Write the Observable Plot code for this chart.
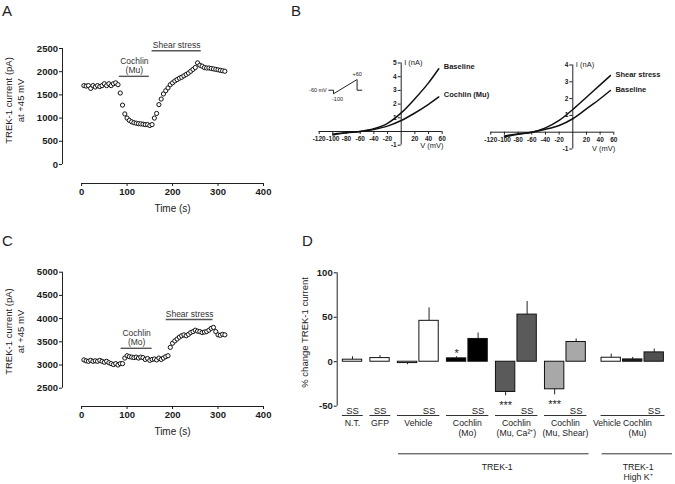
<!DOCTYPE html>
<html><head><meta charset="utf-8">
<script src="https://cdn.jsdelivr.net/npm/d3@7"></script>
<script src="https://cdn.jsdelivr.net/npm/@observablehq/plot@0.6"></script>
<style>
body{margin:0;background:#fff;}
#fig{position:relative;width:675px;height:484px;overflow:hidden;font-family:"Liberation Sans",Arial,Helvetica,sans-serif;color:#1a1a1a;background:#fff;}
.letter{position:absolute;font-size:15px;line-height:1;color:#222;}
</style></head><body><div id="fig"></div>
<script>
// ---------- DATA ----------
// Panels A and C: TREK-1 current at +45 mV sampled every 5 s
const sampleTimes = [5,10,15,20,25,30,35,40,45,50,55,60,65,70,75,80,85,90,95,100,105,110,115,120,125,130,135,140,145,150,155,160,165,170,175,180,185,190,195,200,205,210,215,220,225,230,235,240,245,250,255,260,265,270,275,280,285,290,295,300,305,310,315];
const currentA = [1700,1690,1700,1640,1700,1670,1700,1680,1700,1740,1700,1740,1700,1740,1760,1720,1540,1280,1090,1000,950,920,900,890,880,875,870,860,860,840,860,1000,1100,1290,1410,1520,1590,1650,1720,1760,1800,1830,1860,1880,1910,1940,1970,2010,2050,2090,2190,2140,2120,2090,2080,2080,2070,2060,2050,2040,2030,2020,2010];
const currentC = [3110,3090,3080,3100,3080,3090,3080,3100,3080,3060,3080,3050,3030,3010,3030,3000,3030,3030,3150,3200,3180,3170,3160,3170,3150,3170,3160,3120,3140,3100,3120,3130,3110,3150,3120,3150,3180,3200,3380,3470,3520,3560,3600,3630,3650,3630,3660,3700,3720,3750,3730,3720,3700,3710,3720,3750,3790,3810,3720,3650,3640,3660,3650];
const timeTicks = [0,100,200,300,400];
const yTicksA = [0,500,1000,1500,2000,2500];
const yTicksC = [2500,3000,3500,4000,4500,5000];
// treatment periods (label, start s, end s, drawn at current level)
const periodLabelA = ["Cochlin\n(Mu)","Shear stress"];
const periodStartA = [83,155];
const periodEndA = [149,263];
const periodLevelA = [1900,2450];
const periodLabelC = ["Cochlin\n(Mo)","Shear stress"];
const periodStartC = [87,186];
const periodEndC = [155,289];
const periodLevelC = [3360,3980];

// Panel B: I-V relations
const ivVoltage = [-100,-80,-60,-40,-20,0,20,40,55];
const ivBaselineMu = [-0.25,-0.1,0,0.2,0.6,1.36,2.39,3.55,4.58];
const ivCochlinMu = [-0.2,-0.08,0,0.15,0.39,0.8,1.35,1.98,2.52];
const ivShear = [-0.28,-0.12,0,0.26,0.7,1.35,2.08,2.82,3.37];
const ivBaselineShear = [-0.22,-0.1,0,0.17,0.4,0.8,1.39,1.99,2.48];
const vTicks = [-120,-100,-80,-60,-40,-20,20,40,60];
const iTicksLeft = [-1,1,2,3,4,5];
const iTicksRight = [-1,1,2,3,4];
// voltage-ramp protocol
const protocolStep = [0,1,1,6,6,7];
const protocolVoltage = [-60,-60,-100,60,-60,-60];

// Panel D: % change in TREK-1 current
const groupNames = ["N.T.","GFP","Vehicle","Cochlin\n(Mo)","Cochlin\n(Mu, Ca²⁺)","Cochlin\n(Mu, Shear)","High K⁺"];
const barGroup = ["N.T.","GFP","Vehicle","Vehicle","Cochlin\n(Mo)","Cochlin\n(Mo)","Cochlin\n(Mu, Ca²⁺)","Cochlin\n(Mu, Ca²⁺)","Cochlin\n(Mu, Shear)","Cochlin\n(Mu, Shear)","High K⁺","High K⁺","High K⁺"];
const barTreatment = ["SS","SS","Vehicle","SS","Cochlin (Mo)","SS","Cochlin (Mu, Ca²⁺)","SS","Cochlin (Mu, Shear)","SS","Vehicle","Cochlin\n(Mu)","SS"];
const barSeries = ["N.T.","GFP","Vehicle","Vehicle","Mo","Mo","Ca","Ca","Shear","Shear","HK Vehicle","HK Cochlin","HK SS"];
const barPercent = [2.3,4.1,-1.5,46,3.8,25.6,-34,53,-31,22.2,4.5,2.6,10.5];
const barSEM = [3.3,2.7,1.9,14.5,1.8,6.7,4.3,14.7,6.2,3.4,4.1,2.3,3.8];
const barSignif = ["","","","","*","","***","","***","","","",""];
const percentTicks = [-50,0,50,100];
const superGroupNames = ["TREK-1","TREK-1\nHigh K⁺"];
const superGroupMembers = [["Vehicle","Cochlin\n(Mo)","Cochlin\n(Mu, Ca²⁺)","Cochlin\n(Mu, Shear)"],["High K⁺"]];

// ---------- RENDER ----------
const FONT = '"Liberation Sans", Arial, Helvetica, sans-serif';
const fig = document.getElementById("fig");
const baseStyle = {fontFamily: FONT, fontSize: "9px", color: "#1a1a1a", background: "transparent", overflow: "visible"};
function place(svg, left, top) {
  svg.style.position = "absolute"; svg.style.left = left + "px"; svg.style.top = top + "px";
  fig.appendChild(svg);
}
function letter(t, left, top) {
  const d = document.createElement("div"); d.className = "letter"; d.textContent = t;
  d.style.left = left + "px"; d.style.top = top + "px"; fig.appendChild(d);
}
const idx = n => d3.range(n);
const plain = d => String(d);

function tracePanel({current, yTicks, yDomain, height, marginTop, marginBottom, labels, starts, ends, levels, yLabelAt}) {
  const xDomain = [-42, 400];
  const pi = idx(labels.length);
  return Plot.plot({
    width: 300, height, marginLeft: 62, marginRight: 37, marginTop, marginBottom,
    style: baseStyle,
    x: {domain: xDomain, axis: null}, y: {domain: yDomain, axis: null},
    marks: [
      Plot.ruleX([xDomain[0]], {y1: yTicks[0], y2: yTicks[yTicks.length - 1], stroke: "#222"}),
      Plot.ruleY([yDomain[0]], {x1: timeTicks[0], x2: timeTicks[timeTicks.length - 1], stroke: "#222"}),
      Plot.axisY({ticks: yTicks, tickFormat: plain, tickSize: 3, tickPadding: 1.5, fontWeight: "bold", fontSize: 9.5, label: null}),
      Plot.axisX({ticks: timeTicks, tickFormat: plain, tickSize: 3, tickPadding: 2, fontWeight: "bold", fontSize: 9.5, label: null}),
      Plot.text(["Time (s)"], {x: 200, y: yDomain[0], dy: 25, fontSize: 10}),
      Plot.text(["TREK-1 current (pA)\nat +45 mV"], {x: xDomain[0], y: yLabelAt, dx: -48, rotate: -90, fontSize: 9.5, lineHeight: 1.25}),
      Plot.ruleY(pi, {y: i => levels[i], x1: i => starts[i], x2: i => ends[i], stroke: "#555", strokeWidth: 1.4}),
      Plot.text(pi, {x: i => (starts[i] + ends[i]) / 2, y: i => levels[i], text: i => labels[i], lineAnchor: "bottom", dy: -3, fontSize: 8.5, fill: "#333", lineHeight: 1.15}),
      Plot.dot(idx(sampleTimes.length), {x: i => sampleTimes[i], y: i => current[i], r: 2.1, stroke: "#111", strokeWidth: 1, fill: "white"})
    ]
  });
}

place(tracePanel({current: currentA, yTicks: yTicksA, yDomain: [-410, 2500], height: 220, marginTop: 48, marginBottom: 37,
  labels: periodLabelA, starts: periodStartA, ends: periodEndA, levels: periodLevelA, yLabelAt: 1380}), 0, 0);
place(tracePanel({current: currentC, yTicks: yTicksC, yDomain: [2106, 5000], height: 230, marginTop: 51.7, marginBottom: 44,
  labels: periodLabelC, starts: periodStartC, ends: periodEndC, levels: periodLevelC, yLabelAt: 3722}), 0, 220);

function ivPanel({width, height, marginLeft, marginRight, marginTop, marginBottom, yDomain, iTicks, curves, names, labelDy}) {
  const ci = idx(curves.length);
  const pts = [];
  curves.forEach((c, k) => ivVoltage.forEach((v, j) => pts.push({k, v, i: c[j]})));
  return Plot.plot({
    width, height, marginLeft, marginRight, marginTop, marginBottom,
    style: baseStyle,
    x: {domain: [-120, 60], axis: null}, y: {domain: yDomain, axis: null},
    marks: [
      Plot.ruleY([0], {x1: -120, x2: 60, stroke: "#222"}),
      Plot.ruleX([0], {y1: yDomain[0], y2: yDomain[1], stroke: "#222"}),
      Plot.ruleX(vTicks, {x: d => d, y1: () => 0, y2: () => 0, insetBottom: -3, stroke: "#222"}),
      Plot.ruleY(iTicks, {y: d => d, x1: () => 0, x2: () => 0, insetLeft: -3, stroke: "#222"}),
      Plot.text(vTicks, {x: d => d, y: () => 0, dy: 7.5, text: plain, fontSize: 6.5, fontWeight: "bold"}),
      Plot.text(iTicks, {x: () => 0, y: d => d, dx: -4.5, text: plain, textAnchor: "end", fontSize: 6.5, fontWeight: "bold"}),
      Plot.text(["I (nA)"], {x: 0, y: yDomain[1], dx: 3, textAnchor: "start", fontSize: 7.5}),
      Plot.text(["V (mV)"], {x: 45, y: yDomain[0], fontSize: 7.5}),
      Plot.line(pts, {x: "v", y: "i", z: "k", curve: "monotone-x", stroke: "#111", strokeWidth: 1.5}),
      Plot.text(ci, {x: k => ivVoltage[ivVoltage.length - 1], y: k => curves[k][curves[k].length - 1], text: k => names[k], dx: 5, dy: labelDy, textAnchor: "start", fontSize: 7.5, fontWeight: "bold"})
    ]
  });
}

place(ivPanel({width: 200, height: 125, marginLeft: 28.7, marginRight: 48.3, marginTop: 22.5, marginBottom: 20.3,
  yDomain: [-1, 5], iTicks: iTicksLeft, curves: [ivBaselineMu, ivCochlinMu], names: ["Baseline", "Cochlin (Mu)"], labelDy: -2}), 290, 40);
place(ivPanel({width: 195, height: 125, marginLeft: 10.3, marginRight: 61.7, marginTop: 24.5, marginBottom: 16.5,
  yDomain: [-1, 4], iTicks: iTicksRight, curves: [ivShear, ivBaselineShear], names: ["Shear stress", "Baseline"], labelDy: -1}), 480, 40);

// protocol inset
place(Plot.plot({
  width: 70, height: 35, marginLeft: 28.3, marginRight: 8.7, marginTop: 9, marginBottom: 11.7,
  style: baseStyle,
  x: {domain: [0, 7], axis: null}, y: {domain: [-100, 60], axis: null},
  marks: [
    Plot.line(idx(protocolStep.length), {x: i => protocolStep[i], y: i => protocolVoltage[i], stroke: "#222", strokeWidth: 1}),
    Plot.text(["-60 mV"], {x: 0, y: -60, dx: -2, textAnchor: "end", fontSize: 5.5}),
    Plot.text(["+60"], {x: 6, y: 60, dy: -5, fontSize: 5.5}),
    Plot.text(["-100"], {x: 1, y: -100, dx: 4, dy: 5.5, fontSize: 5.5})
  ]
}), 300, 70);

// Panel D
{
  const barPos = [];
  let q = 0;
  barGroup.forEach((g, i) => {
    if (i > 0) q += 1 + (g !== barGroup[i - 1] ? (g === "High K⁺" ? 0.63 : 0.28) : 0);
    barPos.push(q);
  });
  const bi = idx(barPercent.length);
  const errEnd = bi.map(i => barPercent[i] + Math.sign(barPercent[i]) * barSEM[i]);
  const groupBars = groupNames.map(g => bi.filter(i => barGroup[i] === g));
  const gi = idx(groupNames.length);
  const first = k => barPos[groupBars[k][0]];
  const last = k => barPos[groupBars[k][groupBars[k].length - 1]];
  const superIdx = idx(superGroupNames.length);
  const superFirst = s => Math.min(...superGroupMembers[s].map(n => first(groupNames.indexOf(n))));
  const superLast = s => Math.max(...superGroupMembers[s].map(n => last(groupNames.indexOf(n))));
  const xDomain = [-0.712, 15.02];
  const subLabels = bi.filter(i => barGroup[i] === "High K⁺" && barTreatment[i] !== "SS");
  const subShift = [-0.2, 0.22];
  place(Plot.plot({
    width: 385, height: 254, marginLeft: 46.7, marginRight: 0, marginTop: 42.3, marginBottom: 78.3,
    style: baseStyle,
    x: {domain: xDomain, axis: null}, y: {domain: [-50, 100], axis: null},
    color: {domain: ["N.T.","GFP","Vehicle","Mo","Ca","Shear","HK Vehicle","HK Cochlin","HK SS"],
            range: ["#fff","#fff","#fff","#000","#5a5a5a","#a8a8a8","#fff","#1e1e1e","#505050"]},
    marks: [
      Plot.ruleX([xDomain[0]], {y1: percentTicks[0], y2: percentTicks[percentTicks.length - 1], stroke: "#222"}),
      Plot.axisY({ticks: percentTicks, tickFormat: plain, tickSize: 3, tickPadding: 1.5, fontWeight: "bold", fontSize: 9.5, label: null}),
      Plot.text(["% change TREK-1 current"], {x: xDomain[0], y: 33, dx: -32, rotate: -90, fontSize: 9.5}),
      Plot.ruleX(bi, {x: i => barPos[i], y1: i => barPercent[i], y2: i => errEnd[i], stroke: "#222", strokeWidth: 1}),
      Plot.rect(bi, {x1: i => barPos[i] - 0.45, x2: i => barPos[i] + 0.45, y1: () => 0, y2: i => barPercent[i], fill: i => barSeries[i], stroke: "#111", strokeWidth: 1}),
      Plot.text(bi.filter(i => barSignif[i] && barPercent[i] > 0), {x: i => barPos[i], y: i => errEnd[i], text: i => barSignif[i], dy: -3, fontSize: 11}),
      Plot.text(bi.filter(i => barSignif[i] && barPercent[i] < 0), {x: i => barPos[i], y: i => errEnd[i], text: i => barSignif[i], dy: 9.5, fontSize: 11}),
      // labels below
      Plot.text(gi, {x: k => last(k), y: () => -50, dy: 4.5, text: () => "SS", fontSize: 9.5}),
      Plot.ruleY(gi, {y: () => -50, x1: k => first(k) - 0.47, x2: k => last(k) + 0.5, dy: 9.3, stroke: "#333"}),
      Plot.text(gi.filter(k => groupNames[k] !== "High K⁺"), {x: k => (first(k) + last(k)) / 2, y: () => -50, dy: 13, lineAnchor: "top", text: k => groupNames[k], fontSize: 8.7, lineHeight: 1.15}),
      Plot.text(idx(subLabels.length), {x: j => barPos[subLabels[j]] + subShift[j], y: () => -50, dy: 13, lineAnchor: "top", text: j => barTreatment[subLabels[j]], fontSize: 8.7, lineHeight: 1.15}),
      Plot.ruleY(superIdx, {y: () => -50, x1: s => superFirst(s) - 0.42, x2: s => superLast(s) + (s === 0 ? 0.6 : 0.85), dy: 47.6, stroke: "#333"}),
      Plot.text(superIdx, {x: s => (superFirst(s) + superLast(s)) / 2 + 0.25, y: () => -50, dy: 57.5, lineAnchor: "top", text: s => superGroupNames[s], fontSize: 8.7, lineHeight: 1.1})
    ]
  }), 290, 230);
}

letter("A", 2, 3);
letter("B", 291, 3);
letter("C", 2, 233);
letter("D", 302, 233);
</script></body></html>
